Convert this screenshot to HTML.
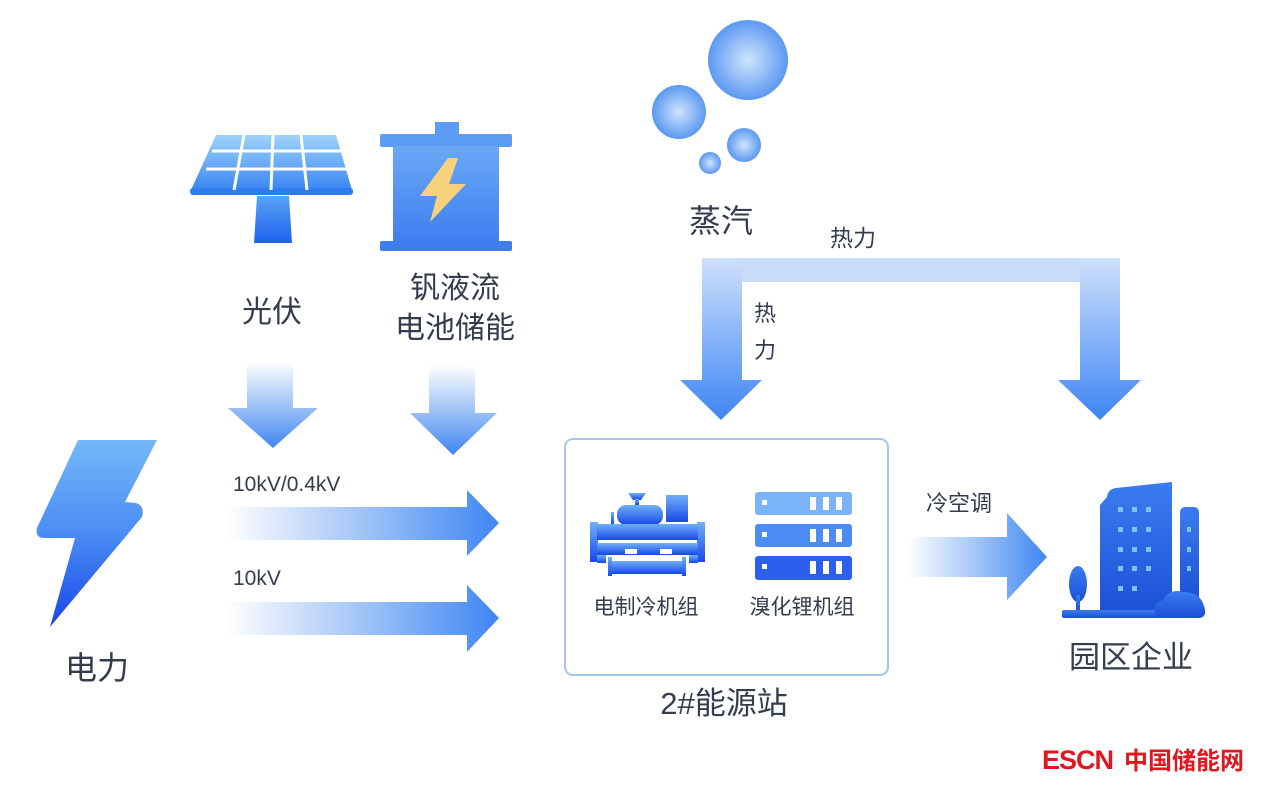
<!DOCTYPE html>
<html><head><meta charset="utf-8">
<style>
html,body{margin:0;padding:0;background:#fff;}
svg{display:block;}
text{font-family:"Liberation Sans","Noto Sans CJK SC",sans-serif;fill:#333d4d;}
</style></head>
<body>
<svg width="1275" height="791" viewBox="0 0 1275 791" xmlns="http://www.w3.org/2000/svg">
<defs>
  <linearGradient id="gDown" x1="0" y1="0" x2="0" y2="1">
    <stop offset="0" stop-color="#ffffff"/>
    <stop offset="0.45" stop-color="#a9c9f7"/>
    <stop offset="1" stop-color="#3f86f3"/>
  </linearGradient>
  <linearGradient id="gHeatL" x1="0" y1="258" x2="0" y2="420" gradientUnits="userSpaceOnUse">
    <stop offset="0" stop-color="#cfe1fa"/>
    <stop offset="1" stop-color="#3d85f3"/>
  </linearGradient>
  <linearGradient id="gRight" x1="0" y1="0" x2="1" y2="0">
    <stop offset="0" stop-color="#ffffff"/>
    <stop offset="0.4" stop-color="#b4d0f8"/>
    <stop offset="1" stop-color="#3f86f3"/>
  </linearGradient>
  <linearGradient id="gBolt" x1="0" y1="0" x2="0" y2="1">
    <stop offset="0" stop-color="#74b8f8"/>
    <stop offset="0.5" stop-color="#4b8df4"/>
    <stop offset="1" stop-color="#1745e8"/>
  </linearGradient>
  <linearGradient id="gPanel" x1="0" y1="0" x2="0" y2="1">
    <stop offset="0" stop-color="#9fd3fb"/>
    <stop offset="1" stop-color="#3a86f4"/>
  </linearGradient>
  <linearGradient id="gStem" x1="0" y1="0" x2="0" y2="1">
    <stop offset="0" stop-color="#5aa2f6"/>
    <stop offset="1" stop-color="#1f62ee"/>
  </linearGradient>
  <linearGradient id="gBat" x1="0" y1="0" x2="0" y2="1">
    <stop offset="0" stop-color="#6aa9f6"/>
    <stop offset="1" stop-color="#3f7ef0"/>
  </linearGradient>
  <linearGradient id="gIcon" x1="0" y1="0" x2="0" y2="1">
    <stop offset="0" stop-color="#6fb0f8"/>
    <stop offset="1" stop-color="#1848ea"/>
  </linearGradient>
  <linearGradient id="gBld" x1="0" y1="0" x2="0" y2="1">
    <stop offset="0" stop-color="#3b7cf0"/>
    <stop offset="1" stop-color="#1b4fd6"/>
  </linearGradient>
  <radialGradient id="gBub" cx="0.5" cy="0.5" r="0.5">
    <stop offset="0" stop-color="#cfe5fc"/>
    <stop offset="1" stop-color="#5c98f2"/>
  </radialGradient>
</defs>

<!-- Solar panel -->
<polygon points="216,135 336,135 352,190 191,190" fill="url(#gPanel)"/>
<rect x="190" y="188" width="163" height="7" rx="3" fill="#2f7bf2"/>
<g stroke="#ffffff" stroke-width="3">
  <line x1="212" y1="151" x2="341" y2="151"/>
  <line x1="206" y1="169" x2="346" y2="169"/>
  <line x1="244" y1="135" x2="234" y2="190"/>
  <line x1="273" y1="135" x2="271" y2="190"/>
  <line x1="301" y1="135" x2="307" y2="190"/>
</g>
<polygon points="257,196 289,196 292,243 254,243" fill="url(#gStem)"/>

<!-- Battery -->
<rect x="435" y="122" width="24" height="14" fill="#5d9cf5"/>
<rect x="380" y="134" width="132" height="13" rx="2" fill="#5d9cf5"/>
<rect x="393" y="146" width="106" height="97" fill="url(#gBat)"/>
<rect x="380" y="241" width="132" height="10" rx="2" fill="#3d7df0"/>
<polygon points="448,158 420,196 437,196 430,222 466,184 449,184 458,158" fill="#f7d27a"/>

<!-- Labels top-left -->
<text x="272" y="322" font-size="30" text-anchor="middle">光伏</text>
<text x="455" y="298" font-size="30" text-anchor="middle">钒液流</text>
<text x="455" y="338" font-size="30" text-anchor="middle">电池储能</text>

<!-- Down arrows -->
<polygon points="247,362 293,362 293,408 318,408 273,448 228,408 247,408" fill="url(#gDown)"/>
<polygon points="429,365 475,365 475,413 497,413 453,455 410,413 429,413" fill="url(#gDown)"/>

<!-- Power bolt -->
<path d="M78,440 L157,440 L125,502 L136,503 Q145,506 142,517 L50,627 L75,538 L43,538 Q35,537 37,528 Z" fill="url(#gBolt)"/>
<text x="97" y="679" font-size="32" text-anchor="middle">电力</text>

<!-- Horizontal power arrows -->
<text x="233" y="491" font-size="21">10kV/0.4kV</text>
<polygon points="226,507 467,507 467,490 499,523 467,556 467,540 226,540" fill="url(#gRight)"/>
<text x="233" y="585" font-size="21">10kV</text>
<polygon points="226,602 467,602 467,585 499,618 467,652 467,635 226,635" fill="url(#gRight)"/>

<!-- Steam bubbles -->
<circle cx="748" cy="60" r="40" fill="url(#gBub)"/>
<circle cx="679" cy="112" r="27" fill="url(#gBub)"/>
<circle cx="744" cy="145" r="17" fill="url(#gBub)"/>
<circle cx="710" cy="163" r="11" fill="url(#gBub)"/>
<text x="721" y="232" font-size="32" text-anchor="middle">蒸汽</text>

<!-- Heat arrows -->
<text x="853" y="246" font-size="23" text-anchor="middle">热力</text>
<rect x="702" y="258" width="418" height="24" fill="#c9ddf9"/>
<polygon points="702,258 742,258 742,380 762,380 721,420 680,380 702,380" fill="url(#gHeatL)"/>
<polygon points="1080,258 1120,258 1120,380 1141,380 1100,420 1058,380 1080,380" fill="url(#gHeatL)"/>
<text x="765" y="321" font-size="22" text-anchor="middle">热</text>
<text x="765" y="358" font-size="22" text-anchor="middle">力</text>

<!-- Energy station box -->
<rect x="565" y="439" width="323" height="236" rx="8" fill="#ffffff" stroke="#a8c4ee" stroke-width="2"/>

<!-- Chiller icon -->
<g fill="url(#gIcon)">
  <polygon points="628,493 646,493 641,500 633,500"/>
  <rect x="635" y="499" width="4" height="6"/>
  <rect x="617" y="505" width="46" height="20" rx="9"/>
  <rect x="666" y="495" width="22" height="27"/>
  <rect x="611" y="512" width="3" height="12"/>
  <rect x="590" y="522" width="8" height="40"/>
  <rect x="697" y="522" width="8" height="40"/>
  <rect x="597" y="524" width="101" height="16"/>
  <rect x="597" y="543" width="101" height="12"/>
  <rect x="597" y="555" width="9" height="8"/>
  <rect x="689" y="555" width="9" height="8"/>
  <rect x="608" y="557" width="4" height="19"/>
  <rect x="682" y="557" width="4" height="19"/>
  <rect x="612" y="561" width="70" height="13"/>
</g>
<rect x="600" y="541" width="95" height="2" fill="#ffffff"/>
<rect x="625" y="549" width="12" height="5" fill="#ffffff"/>
<rect x="660" y="549" width="12" height="5" fill="#ffffff"/>

<!-- Server icon -->
<g>
  <rect x="755" y="492" width="97" height="23" rx="3" fill="#7ab3f7"/>
  <rect x="755" y="524" width="97" height="23" rx="3" fill="#4c8cf4"/>
  <rect x="755" y="556" width="97" height="24" rx="3" fill="#2a5ff0"/>
  <g fill="#ffffff">
    <rect x="762" y="500" width="5" height="5"/>
    <rect x="762" y="532" width="5" height="5"/>
    <rect x="762" y="564" width="5" height="5"/>
    <rect x="810" y="497" width="6" height="13"/><rect x="823" y="497" width="6" height="13"/><rect x="836" y="497" width="6" height="13"/>
    <rect x="810" y="529" width="6" height="13"/><rect x="823" y="529" width="6" height="13"/><rect x="836" y="529" width="6" height="13"/>
    <rect x="810" y="561" width="6" height="13"/><rect x="823" y="561" width="6" height="13"/><rect x="836" y="561" width="6" height="13"/>
  </g>
</g>
<text x="646" y="614" font-size="21" text-anchor="middle">电制冷机组</text>
<text x="802" y="614" font-size="21" text-anchor="middle">溴化锂机组</text>
<text x="724" y="714" font-size="31" text-anchor="middle">2#能源站</text>

<!-- Cooling arrow -->
<text x="959" y="511" font-size="22" text-anchor="middle">冷空调</text>
<polygon points="908,537 1007,537 1007,513 1047,557 1007,600 1007,577 908,577" fill="url(#gRight)"/>

<!-- Building -->
<g fill="url(#gBld)">
  <path d="M1107,497 Q1108,489 1116,488 L1172,482 L1172,617 L1100,617 L1100,505 Z"/>
  <rect x="1180" y="507" width="19" height="97" rx="5"/>
  <ellipse cx="1078" cy="584" rx="9" ry="18"/>
  <rect x="1076" y="595" width="4" height="18"/>
  <rect x="1062" y="610" width="112" height="8" rx="2"/>
  <path d="M1157,618 Q1150,604 1163,600 Q1170,588 1184,592 Q1200,592 1204,606 Q1208,618 1198,618 Z"/>
</g>
<g fill="#7fc1fb">
  <rect x="1118" y="507" width="5" height="5"/><rect x="1132" y="507" width="5" height="5"/><rect x="1146" y="507" width="5" height="5"/>
  <rect x="1118" y="527" width="5" height="5"/><rect x="1132" y="527" width="5" height="5"/><rect x="1146" y="527" width="5" height="5"/>
  <rect x="1118" y="547" width="5" height="5"/><rect x="1132" y="547" width="5" height="5"/><rect x="1146" y="547" width="5" height="5"/>
  <rect x="1118" y="566" width="5" height="5"/><rect x="1132" y="566" width="5" height="5"/><rect x="1146" y="566" width="5" height="5"/>
  <rect x="1118" y="586" width="5" height="5"/><rect x="1132" y="586" width="5" height="5"/>
  <rect x="1187" y="527" width="4" height="5"/><rect x="1187" y="547" width="4" height="5"/><rect x="1187" y="566" width="4" height="5"/>
</g>
<text x="1131" y="668" font-size="31" text-anchor="middle">园区企业</text>

<!-- Logo -->
<text x="1042" y="769" font-size="27" font-weight="bold" style="fill:#e1161f;letter-spacing:-1px">ESCN</text>
<text x="1124" y="769" font-size="24" font-weight="bold" style="fill:#e1161f">中国储能网</text>
</svg>
</body></html>
